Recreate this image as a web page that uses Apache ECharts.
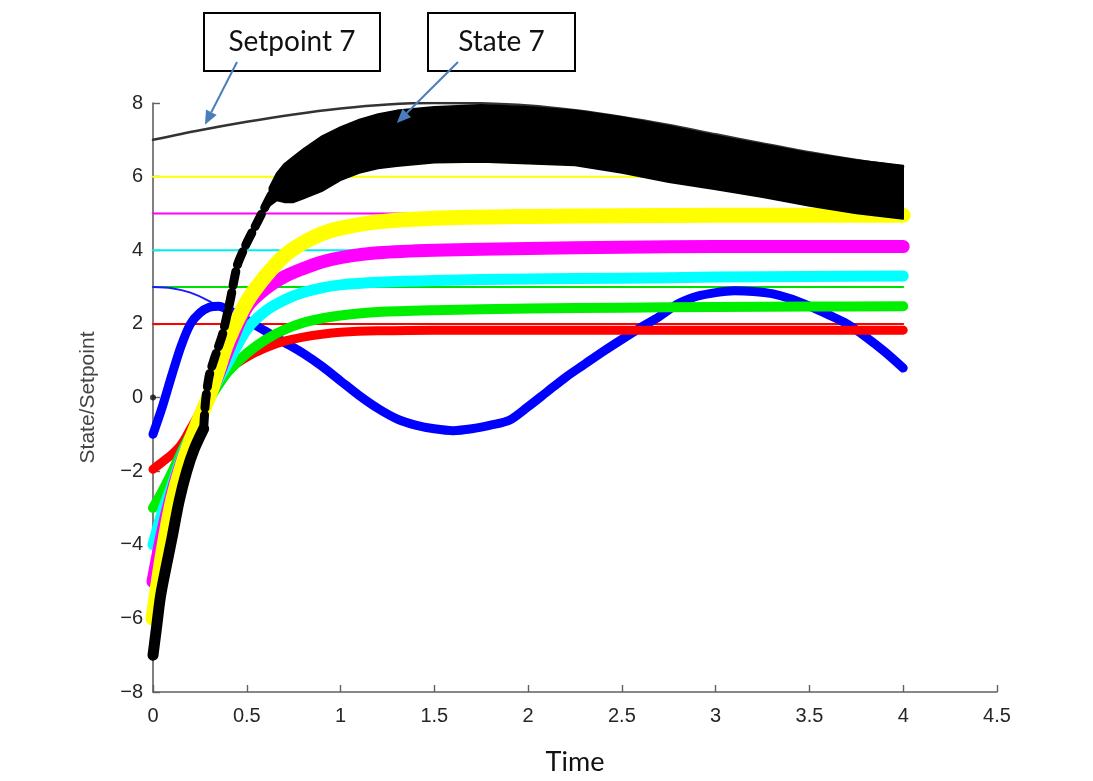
<!DOCTYPE html>
<html>
<head>
<meta charset="utf-8">
<title>State/Setpoint vs Time</title>
<script src="https://cdn.jsdelivr.net/npm/echarts@6/dist/echarts.min.js"></script>
<style>
  html, body { margin: 0; padding: 0; background: #ffffff; }
  #chart { width: 1093px; height: 781px; }
</style>
</head>
<body>
<div id="chart"></div>
<script>
// ---- data ----------------------------------------------------------------
// setpoint levels for agents 2..6 (constant over the whole run)
const setpointSpan = [0, 4];
const setpointLevels = [2, 3, 4, 5, 6];
const setpointColors = ['#ff0000', '#00e000', '#00f0f0', '#ff00ff', '#ffff00'];

// time-varying setpoint of agent 7
const setpoint7Time = [0, 0.25, 0.5, 0.75, 1, 1.25, 1.5, 1.75, 2, 2.25, 2.5, 2.75, 3, 3.25, 3.5, 3.75, 4];
const setpoint7 = [7.0, 7.26, 7.49, 7.69, 7.85, 7.96, 8.0, 7.99, 7.93, 7.8, 7.62, 7.4, 7.15, 6.9, 6.66, 6.45, 6.27];

// time-varying setpoint of agent 1 (visible part before it runs under its state)
const setpoint1Time = [0, 0.1, 0.2, 0.3, 0.4, 0.45];
const setpoint1 = [3.0, 2.97, 2.85, 2.62, 2.3, 2.15];

// states of agents 1..6
const stateTime = [0, 0.05, 0.1, 0.15, 0.2, 0.25, 0.3, 0.35, 0.4, 0.5, 0.6, 0.7, 0.8, 0.9, 1.0, 1.2, 1.5, 2.0, 2.5, 3.0, 3.5, 4.0];
const state2 = [-1.95, -1.75, -1.55, -1.28, -0.85, -0.4, 0.05, 0.45, 0.75, 1.1, 1.35, 1.53, 1.64, 1.72, 1.77, 1.81, 1.83, 1.83, 1.83, 1.83, 1.83, 1.83];
const state3 = [-3.0, -2.55, -2.05, -1.5, -1.0, -0.5, -0.05, 0.35, 0.7, 1.2, 1.57, 1.84, 2.03, 2.15, 2.23, 2.32, 2.37, 2.42, 2.44, 2.46, 2.47, 2.48];
const state4 = [-4.0, -3.1, -2.4, -1.65, -1.05, -0.5, 0.0, 0.5, 0.95, 1.85, 2.35, 2.65, 2.85, 2.98, 3.06, 3.13, 3.18, 3.22, 3.24, 3.27, 3.29, 3.3];
const state5 = [-5.0, -3.7, -2.65, -1.8, -1.15, -0.5, 0.05, 0.65, 1.3, 2.45, 2.95, 3.28, 3.5, 3.68, 3.8, 3.93, 4.0, 4.05, 4.08, 4.1, 4.1, 4.1];
const state6 = [-6.0, -4.3, -2.9, -1.95, -1.2, -0.55, 0.05, 0.8, 1.55, 2.6, 3.3, 3.85, 4.2, 4.45, 4.6, 4.77, 4.87, 4.92, 4.94, 4.95, 4.95, 4.95];

const state1Time = [0, 0.05, 0.1, 0.15, 0.2, 0.25, 0.3, 0.35, 0.4, 0.5, 0.6, 0.7, 0.8, 0.9, 1.0, 1.1, 1.2, 1.3, 1.4, 1.5, 1.6, 1.7, 1.8, 1.9, 2.0, 2.1, 2.2, 2.3, 2.4, 2.5, 2.6, 2.7, 2.8, 2.9, 3.0, 3.1, 3.2, 3.3, 3.4, 3.5, 3.6, 3.7, 3.8, 3.9, 4.0];
const state1 = [-1.0, -0.25, 0.6, 1.4, 2.0, 2.3, 2.45, 2.48, 2.38, 2.1, 1.8, 1.5, 1.2, 0.85, 0.45, 0.05, -0.3, -0.58, -0.75, -0.85, -0.9, -0.85, -0.75, -0.62, -0.25, 0.15, 0.55, 0.9, 1.25, 1.58, 1.9, 2.2, 2.55, 2.75, 2.85, 2.9, 2.88, 2.82, 2.68, 2.48, 2.25, 2.0, 1.65, 1.25, 0.8];

// state of agent 7: initial rise, intermittent swings, then a fast oscillation band
const state7RiseTime = [0, 0.02, 0.04, 0.07, 0.1, 0.14, 0.18, 0.22, 0.27];
const state7Rise = [-7.0, -6.2, -5.4, -4.6, -3.85, -2.8, -2.0, -1.4, -0.85];
const state7SwingTime = [0.27, 0.28, 0.30, 0.33, 0.37, 0.41, 0.45, 0.5, 0.55, 0.6, 0.66];
const state7Swing = [-0.85, -0.1, 0.6, 1.1, 1.7, 2.6, 3.6, 4.2, 4.7, 5.2, 5.8];
const state7BandTime = [0.62, 0.66, 0.7, 0.75, 0.8, 0.9, 1.0, 1.1, 1.2, 1.3, 1.5, 1.75, 2.0, 2.25, 2.5, 2.75, 3.0, 3.25, 3.5, 3.75, 4.0];
const state7BandUpper = [5.7, 6.1, 6.35, 6.55, 6.75, 7.1, 7.35, 7.55, 7.7, 7.8, 7.9, 7.95, 7.9, 7.8, 7.62, 7.38, 7.12, 6.88, 6.64, 6.45, 6.3];
const state7BandLower = [5.2, 5.35, 5.3, 5.3, 5.4, 5.6, 5.9, 6.1, 6.22, 6.28, 6.38, 6.4, 6.35, 6.3, 6.1, 5.85, 5.65, 5.44, 5.2, 5.0, 4.85];

// marker at the origin of the y axis
const originPoint = [[0, 0]];

// annotation targets
const annotations = [
  { text: 'Setpoint 7', box: [204, 13, 176, 58], from: [237, 62], target: [0.277, 7.41] },
  { text: 'State 7', box: [428, 13, 147, 58], from: [458, 62], target: [1.30, 7.46] }
];

// ---- chart ----------------------------------------------------------------
const pairs = (ts, vs) => ts.map((t, i) => [t, vs[i]]);
const chart = echarts.init(document.getElementById('chart'));

function line(name, data, color, width, z, dash) {
  return {
    type: 'line', name, data, z,
    symbol: 'none', smooth: 0.3, silent: true, animation: false,
    lineStyle: { color, width, type: dash || 'solid', cap: 'round', join: 'round' }
  };
}

const series = [];
setpointLevels.forEach((lv, i) => {
  series.push(line('Setpoint ' + (i + 2), setpointSpan.map(t => [t, lv]), setpointColors[i], 2, 2));
});
series.push(line('Setpoint 1', pairs(setpoint1Time, setpoint1), '#1a1aff', 2, 2));
series.push(line('Setpoint 7', pairs(setpoint7Time, setpoint7), '#333333', 2.5, 2));

series.push(line('State 1', pairs(state1Time, state1), '#0000ff', 9, 3));
series.push(line('State 2', pairs(stateTime, state2), '#ff0000', 9, 4));
series.push(line('State 3', pairs(stateTime, state3), '#00ee00', 10, 4));
series.push(line('State 4', pairs(stateTime, state4), '#00ffff', 11, 4));
series.push(line('State 5', pairs(stateTime, state5), '#ff00ff', 13, 4));
series.push(line('State 6', pairs(stateTime, state6), '#ffff00', 15, 4));

series.push(line('State 7', pairs(state7RiseTime, state7Rise), '#000000', 11, 6));
series.push(Object.assign(line('State 7 swing', pairs(state7SwingTime, state7Swing), '#000000', 9, 6, [14, 7]), { smooth: 0.2 }));
series.push({
  type: 'custom', name: 'State 7 band', z: 6, silent: true, animation: false,
  data: [[0, 0]],
  renderItem: function (params, api) {
    const pts = [];
    for (let i = 0; i < state7BandTime.length; i++) pts.push(api.coord([state7BandTime[i], state7BandUpper[i]]));
    for (let i = state7BandTime.length - 1; i >= 0; i--) pts.push(api.coord([state7BandTime[i], state7BandLower[i]]));
    return { type: 'polygon', shape: { points: pts }, style: { fill: '#000000', stroke: '#000000', lineWidth: 1.5, lineJoin: 'round' } };
  }
});
series.push({
  type: 'scatter', name: 'origin', data: originPoint, z: 7, silent: true, animation: false,
  symbolSize: 6, itemStyle: { color: '#111111' }
});

const tickFont = { color: '#262626', fontSize: 20, fontFamily: 'Liberation Sans, Arial, sans-serif' };

chart.setOption({
  animation: false,
  backgroundColor: '#ffffff',
  grid: { left: 153, right: 96, top: 103, bottom: 84, containLabel: false },
  xAxis: {
    type: 'value', min: 0, max: 4.5, interval: 0.5,
    name: 'Time', nameLocation: 'middle', nameGap: 57,
    nameTextStyle: { color: '#111111', fontSize: 27, fontFamily: 'Lato, Open Sans, sans-serif' },
    axisLine: { show: true, onZero: false, lineStyle: { color: '#606060', width: 1.6 } },
    axisTick: { show: true, inside: true, length: 7, lineStyle: { color: '#606060', width: 1.4 } },
    axisLabel: Object.assign({ margin: 14 }, tickFont),
    splitLine: { show: false }
  },
  yAxis: {
    type: 'value', min: -8, max: 8, interval: 2,
    name: 'State/Setpoint', nameLocation: 'middle', nameGap: 54, nameRotate: 90,
    nameTextStyle: { color: '#444444', fontSize: 21, fontFamily: 'Liberation Sans, Arial, sans-serif' },
    axisLine: { show: true, onZero: false, lineStyle: { color: '#606060', width: 1.6 } },
    axisTick: { show: true, inside: true, length: 7, lineStyle: { color: '#606060', width: 1.4 } },
    axisLabel: Object.assign({ margin: 10, formatter: v => String(v).replace('-', '\u2212') }, tickFont),
    splitLine: { show: false }
  },
  series
});

// annotation boxes with arrows pointing at the data
const graphics = [];
annotations.forEach(a => {
  const [bx, by, bw, bh] = a.box;
  graphics.push({
    type: 'rect', z: 20, shape: { x: bx, y: by, width: bw, height: bh },
    style: { fill: '#ffffff', stroke: '#000000', lineWidth: 2 }
  });
  graphics.push({
    type: 'text', z: 21, x: bx + bw / 2, y: by + bh / 2,
    style: { text: a.text, fill: '#111111', font: '28px Lato, "Open Sans", sans-serif', align: 'center', verticalAlign: 'middle' }
  });
  const tip = chart.convertToPixel({ gridIndex: 0 }, a.target);
  const [sx, sy] = a.from;
  const dx = tip[0] - sx, dy = tip[1] - sy;
  const len = Math.hypot(dx, dy);
  const ux = dx / len, uy = dy / len;
  const headLen = 14, headHalf = 6;
  const bxp = tip[0] - ux * headLen, byp = tip[1] - uy * headLen;
  graphics.push({
    type: 'line', z: 22, shape: { x1: sx, y1: sy, x2: bxp, y2: byp },
    style: { stroke: '#4a7ebb', lineWidth: 2 }
  });
  graphics.push({
    type: 'polygon', z: 22,
    shape: { points: [tip, [bxp - uy * headHalf, byp + ux * headHalf], [bxp + uy * headHalf, byp - ux * headHalf]] },
    style: { fill: '#4a7ebb' }
  });
});
chart.setOption({ graphic: graphics });
</script>
</body>
</html>
